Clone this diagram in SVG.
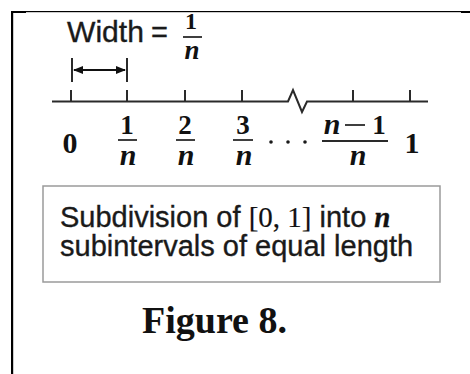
<svg xmlns="http://www.w3.org/2000/svg" width="470" height="374" viewBox="0 0 470 374">
<defs>
<style>
.sans{font-family:"Liberation Sans",Arial,sans-serif;fill:#1a1a1a;stroke:#1a1a1a;stroke-width:0.35}
.serif{font-family:"Liberation Serif","Times New Roman",serif;fill:#111}
.b{font-weight:bold}
.i{font-style:italic}
.num{font-family:"Liberation Serif","Times New Roman",serif;font-weight:bold;fill:#111;text-anchor:middle;font-size:27px}
.den{font-family:"Liberation Serif","Times New Roman",serif;font-weight:bold;font-style:italic;fill:#111;text-anchor:middle;font-size:30px}
.ln{stroke:#2a2a2a;stroke-width:2;fill:none}
.bar{stroke:#2a2a2a;stroke-width:1.8}
</style>
<marker id="ah" viewBox="0 0 10 8" refX="9" refY="4" markerWidth="10" markerHeight="8" markerUnits="userSpaceOnUse" orient="auto-start-reverse">
<path d="M0,0 L10,4 L0,8 Z" fill="#111"/>
</marker>
</defs>
<rect width="470" height="374" fill="#fff"/>
<g id="frame" fill="#000">
<rect x="11" y="11" width="459" height="1.2"/>
<rect x="11" y="11" width="15" height="2"/>
<rect x="461" y="11" width="9" height="2"/>
<rect x="11" y="11" width="2.2" height="363"/>
</g>
<g id="width-label">
<text class="sans" x="67" y="42" font-size="29" textLength="77" lengthAdjust="spacingAndGlyphs">Width</text>
<text class="sans" x="151" y="42" font-size="29">=</text>
<text class="num" x="191" y="29" style="font-size:24px">1</text>
<line class="bar" x1="183" y1="37" x2="202" y2="37"/>
<text class="den" x="192" y="59" style="font-size:27px">n</text>
</g>
<g id="width-arrow">
<line class="ln" x1="72" y1="58" x2="72" y2="82"/>
<line class="ln" x1="127" y1="58" x2="127" y2="82"/>
<line x1="74" y1="70" x2="125" y2="70" stroke="#111" stroke-width="2" marker-start="url(#ah)" marker-end="url(#ah)"/>
</g>
<g id="number-line">
<path class="ln" d="M52,101.5 H288 L293,90 L302,112 L307,101.5 H428"/>
<path class="ln" d="M71,90 V101 M127,90 V101 M185,90 V101 M242,90 V101 M353,90 V101 M410,90 V101"/>
</g>
<g id="labels">
<text class="serif b" x="70" y="153" font-size="30" text-anchor="middle">0</text>
<g id="frac1">
<text class="num" x="127" y="134">1</text>
<line class="bar" x1="118" y1="140" x2="137" y2="140"/>
<text class="den" x="128" y="165">n</text>
</g>
<g id="frac2">
<text class="num" x="185" y="134">2</text>
<line class="bar" x1="176" y1="140" x2="195" y2="140"/>
<text class="den" x="186" y="165">n</text>
</g>
<g id="frac3">
<text class="num" x="243" y="134">3</text>
<line class="bar" x1="233" y1="140" x2="253" y2="140"/>
<text class="den" x="244" y="165">n</text>
</g>
<g id="dots" fill="#1a1a1a">
<circle cx="271" cy="142" r="1.8"/>
<circle cx="288" cy="142" r="1.8"/>
<circle cx="305" cy="142" r="1.8"/>
</g>
<g id="frac-n1">
<text class="den" x="332" y="134">n</text>
<line class="bar" x1="345" y1="125" x2="365" y2="125"/>
<text class="num" x="379" y="134">1</text>
<line class="bar" x1="322" y1="141" x2="388" y2="141"/>
<text class="den" x="358" y="165">n</text>
</g>
<text class="serif b" x="412" y="153" font-size="30" text-anchor="middle">1</text>
</g>
<g id="caption-box">
<rect x="43" y="186" width="397" height="96" fill="#fff" stroke="#9a9a9a" stroke-width="1.5"/>
<text class="sans" x="60" y="227" font-size="29">Subdivision of <tspan class="serif" style="stroke-width:0.2">[0, 1]</tspan> into <tspan class="serif b i">n</tspan></text>
<text class="sans" x="60" y="256" font-size="29">subintervals of equal length</text>
</g>
<g id="figure-title">
<text class="serif b" x="142" y="333" font-size="38">Figure 8.</text>
</g>
</svg>
